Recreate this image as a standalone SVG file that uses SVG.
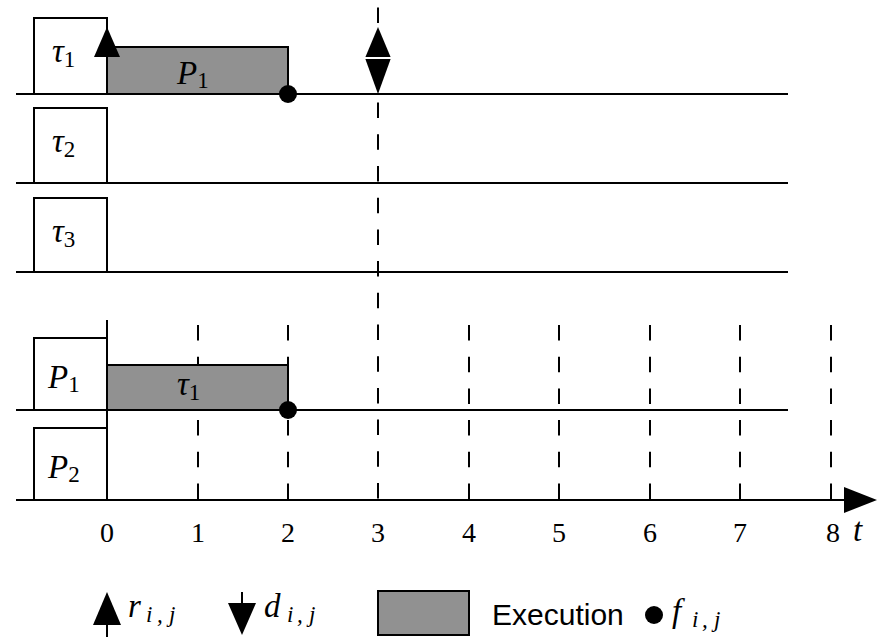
<svg xmlns="http://www.w3.org/2000/svg" width="881" height="637" viewBox="0 0 881 637">
<style>
.ln{stroke:#000;stroke-width:2;fill:none}
.dash{stroke:#000;stroke-width:2;fill:none;stroke-dasharray:15.5 16.2}
.box{fill:#fff;stroke:#000;stroke-width:2}
.exec{fill:#919191;stroke:#000;stroke-width:2}
.m{font-family:"Liberation Serif","DejaVu Serif",serif;font-style:italic;font-size:33px;fill:#000}
.n{font-family:"Liberation Serif","DejaVu Serif",serif;font-size:28px;fill:#000}
.s{font-size:23px;font-style:normal}
.si{font-size:23px;font-style:italic}
.sans{font-family:"Liberation Sans","DejaVu Sans",sans-serif;font-size:30px;fill:#000}
</style>
<rect width="881" height="637" fill="#fff"/>
<g id="connectors">
<line class="ln" x1="16" y1="94" x2="788" y2="94"/>
<line class="ln" x1="16" y1="183" x2="788" y2="183"/>
<line class="ln" x1="16" y1="272" x2="788" y2="272"/>
<line class="ln" x1="16" y1="410" x2="788" y2="410"/>
<line class="ln" x1="16" y1="500" x2="847" y2="500"/>
<polygon points="844,487 877,500 844,513" fill="#000"/>
<line class="ln" x1="107" y1="320" x2="107" y2="500"/>
<line class="dash" x1="378" y1="7.5" x2="378" y2="500"/>
<line class="dash" x1="198" y1="325" x2="198" y2="500"/>
<line class="dash" x1="288" y1="325" x2="288" y2="500"/>
<line class="dash" x1="469" y1="325" x2="469" y2="500"/>
<line class="dash" x1="559" y1="325" x2="559" y2="500"/>
<line class="dash" x1="650" y1="325" x2="650" y2="500"/>
<line class="dash" x1="740" y1="325" x2="740" y2="500"/>
<line class="dash" x1="831" y1="325" x2="831" y2="500"/>
</g>
<g id="tau1">
<rect class="box" x="34" y="18" width="73" height="76"/>
<text class="m" x="52" y="62">τ<tspan class="s" dy="5">1</tspan></text>
</g>
<g id="tau2">
<rect class="box" x="34" y="108" width="73" height="75"/>
<text class="m" x="52" y="152">τ<tspan class="s" dy="5">2</tspan></text>
</g>
<g id="tau3">
<rect class="box" x="34" y="198" width="73" height="74"/>
<text class="m" x="52" y="242">τ<tspan class="s" dy="5">3</tspan></text>
</g>
<g id="exec-tau1">
<rect class="exec" x="107" y="47" width="181" height="47"/>
<text class="m" x="177" y="84">P<tspan class="s" dy="4">1</tspan></text>
<circle cx="288" cy="94" r="9" fill="#000"/>
</g>
<g id="release-tau1">
<polygon points="107,27 120,57 94,57" fill="#000"/>
</g>
<g id="deadline-tau1">
<polygon points="378,27 391,58 365,58" fill="#000"/>
<polygon points="365,58 391,58 378,94" fill="#000"/>
<line x1="365" y1="58" x2="391" y2="58" stroke="#fff" stroke-width="2"/>
</g>
<g id="P1">
<rect class="box" x="34" y="338" width="73" height="72"/>
<text class="m" x="48" y="388">P<tspan class="s" dy="4">1</tspan></text>
</g>
<g id="P2">
<rect class="box" x="34" y="428" width="73" height="72"/>
<text class="m" x="48" y="478">P<tspan class="s" dy="4">2</tspan></text>
</g>
<g id="exec-P1">
<rect class="exec" x="107" y="365" width="181" height="45"/>
<text class="m" x="177" y="395">τ<tspan class="s" dy="5">1</tspan></text>
<circle cx="288" cy="410" r="9" fill="#000"/>
</g>
<g id="ticks">
<text class="n" x="107" y="542" text-anchor="middle">0</text>
<text class="n" x="198" y="542" text-anchor="middle">1</text>
<text class="n" x="288" y="542" text-anchor="middle">2</text>
<text class="n" x="378" y="542" text-anchor="middle">3</text>
<text class="n" x="469" y="542" text-anchor="middle">4</text>
<text class="n" x="559" y="542" text-anchor="middle">5</text>
<text class="n" x="650" y="542" text-anchor="middle">6</text>
<text class="n" x="740" y="542" text-anchor="middle">7</text>
<text class="n" x="833" y="542" text-anchor="middle">8</text>
<text class="m" x="853" y="541">t</text>
</g>
<g id="legend">
<line class="ln" x1="107" y1="615" x2="107" y2="637"/>
<polygon points="107,592 121,625 93,625" fill="#000"/>
<text class="m" x="128" y="617">r<tspan class="si" x="146" dy="5">i</tspan><tspan class="si" x="157">,</tspan><tspan class="si" x="169">j</tspan></text>
<line class="ln" x1="242" y1="592" x2="242" y2="612"/>
<polygon points="228,603 256,603 242,635" fill="#000"/>
<text class="m" x="264" y="617">d<tspan class="si" x="287" dy="5">i</tspan><tspan class="si" x="297">,</tspan><tspan class="si" x="309">j</tspan></text>
<rect class="exec" x="378" y="591" width="91" height="44"/>
<text class="sans" x="492" y="625">Execution</text>
<circle cx="654" cy="615" r="9" fill="#000"/>
<text class="m" x="672" y="622">f<tspan class="si" x="692" dy="5">i</tspan><tspan class="si" x="702">,</tspan><tspan class="si" x="714">j</tspan></text>
</g>
</svg>
